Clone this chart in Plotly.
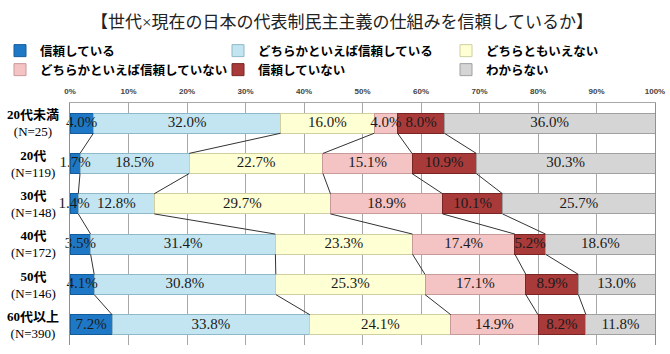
import plotly.graph_objects as go

categories = ["20代未満", "20代", "30代", "40代", "50代", "60代以上"]
sample_sizes = [25, 119, 148, 172, 146, 390]
series_names = ["信頼している", "どちらかといえば信頼している", "どちらともいえない",
                "どちらかといえば信頼していない", "信頼していない", "わからない"]
trust = [4.0, 1.7, 1.4, 3.5, 4.1, 7.2]
rather_trust = [32.0, 18.5, 12.8, 31.4, 30.8, 33.8]
neither = [16.0, 22.7, 29.7, 23.3, 25.3, 24.1]
rather_distrust = [4.0, 15.1, 18.9, 17.4, 17.1, 14.9]
distrust = [8.0, 10.9, 10.1, 5.2, 8.9, 8.2]
unknown = [36.0, 30.3, 25.7, 18.6, 13.0, 11.8]
tick_values = [0, 10, 20, 30, 40, 50, 60, 70, 80, 90, 100]
tick_labels = ["0%", "10%", "20%", "30%", "40%", "50%", "60%", "70%", "80%", "90%", "100%"]

series = [trust, rather_trust, neither, rather_distrust, distrust, unknown]
colors = ["#1F78C6", "#C2E5F1", "#FFFFD4", "#F4C4C4", "#A83A3A", "#D5D5D5"]
edge_colors = ["#135C9C", "#8FB8C8", "#CFCFA2", "#C99A9A", "#7A2424", "#A0A0A0"]

rows = list(range(len(categories)))
fig = go.Figure()

legend_ids = ["legend", "legend2", "legend3", "legend4", "legend5", "legend6"]
for k, (name, vals) in enumerate(zip(series_names, series)):
    fig.add_trace(go.Bar(
        y=rows, x=vals, orientation="h", name=name, width=0.5,
        marker=dict(color=colors[k], line=dict(color=edge_colors[k], width=1)),
        legend=legend_ids[k], hovertemplate="%{x:.1f}%<extra>" + name + "</extra>",
    ))

# normalized cumulative boundaries (100% stacked)
starts, ends = [], []
for i in rows:
    total = sum(s[i] for s in series)
    acc = 0.0
    st, en = [], []
    for s in series:
        st.append(acc / total * 100)
        acc += s[i]
        en.append(acc / total * 100)
    starts.append(st)
    ends.append(en)

# connector (series) lines between adjacent bars
lx, ly = [], []
for i in rows[:-1]:
    for k in range(len(series) - 1):
        lx += [ends[i][k], ends[i + 1][k], None]
        ly += [i + 0.25, i + 0.75, None]
fig.add_trace(go.Scatter(x=lx, y=ly, mode="lines", line=dict(color="#333333", width=1),
                         showlegend=False, hoverinfo="skip"))

# value labels, drawn above all bars
tx, ty, tt = [], [], []
for i in rows:
    for k, s in enumerate(series):
        tx.append((starts[i][k] + ends[i][k]) / 2)
        ty.append(i)
        tt.append(f"{s[i]:.1f}%")
fig.add_trace(go.Scatter(x=tx, y=ty, text=tt, mode="text", cliponaxis=False,
                         textfont=dict(family="Liberation Serif", size=15, color="#1A1A1A"),
                         showlegend=False, hoverinfo="skip"))

# category labels
for i, (cat, n) in enumerate(zip(categories, sample_sizes)):
    fig.add_annotation(x=-0.063, xref="paper", y=i, yref="y", showarrow=False,
                       xanchor="center", align="center",
                       text=f"<b>{cat}</b><br>(N={n})",
                       font=dict(family="Liberation Serif, Noto Sans CJK JP", size=13, color="#000"))

# legend placement: 2 rows x 3 columns
leg_pos = [(0, 51), (218, 51), (446, 51), (0, 70), (218, 70), (446, 70)]
leg_layout = {}
for lid, (px, py) in zip(legend_ids, leg_pos):
    leg_layout[lid] = dict(
        x=px / 670, y=1 - py / 354, xref="container", yref="container",
        xanchor="left", yanchor="middle", orientation="h",
        bgcolor="rgba(0,0,0,0)", itemwidth=30,
        font=dict(family="Noto Sans CJK JP", size=12.5, color="#000", weight="bold"),
    )

fig.update_layout(
    width=670, height=354,
    margin=dict(l=70, r=15, t=103, b=9, autoexpand=False),
    paper_bgcolor="white", plot_bgcolor="white",
    barmode="stack", barnorm="percent",
    title=dict(text="【世代×現在の日本の代表制民主主義の仕組みを信頼しているか】",
               x=342 / 670, xanchor="center", y=1 - 22 / 354, yanchor="middle",
               font=dict(family="Liberation Serif, Noto Sans CJK JP", size=17, color="#222")),
    xaxis=dict(side="top", range=[0, 100], tickvals=tick_values, ticktext=tick_labels,
               showgrid=True, gridcolor="#A8A8A8", gridwidth=1, zeroline=False,
               showline=True, linecolor="#A8A8A8", linewidth=1, ticks="",
               ticklabelstandoff=5, automargin=False,
               tickfont=dict(family="Liberation Sans", size=8, color="#444", weight="bold")),
    yaxis=dict(range=[5.5, -0.5], showticklabels=False, showgrid=False, zeroline=False,
               showline=True, mirror=True, linecolor="#909090", linewidth=1, ticks="",
               automargin=False),
    showlegend=True,
    **leg_layout,
)

fig.write_html("out.html")
